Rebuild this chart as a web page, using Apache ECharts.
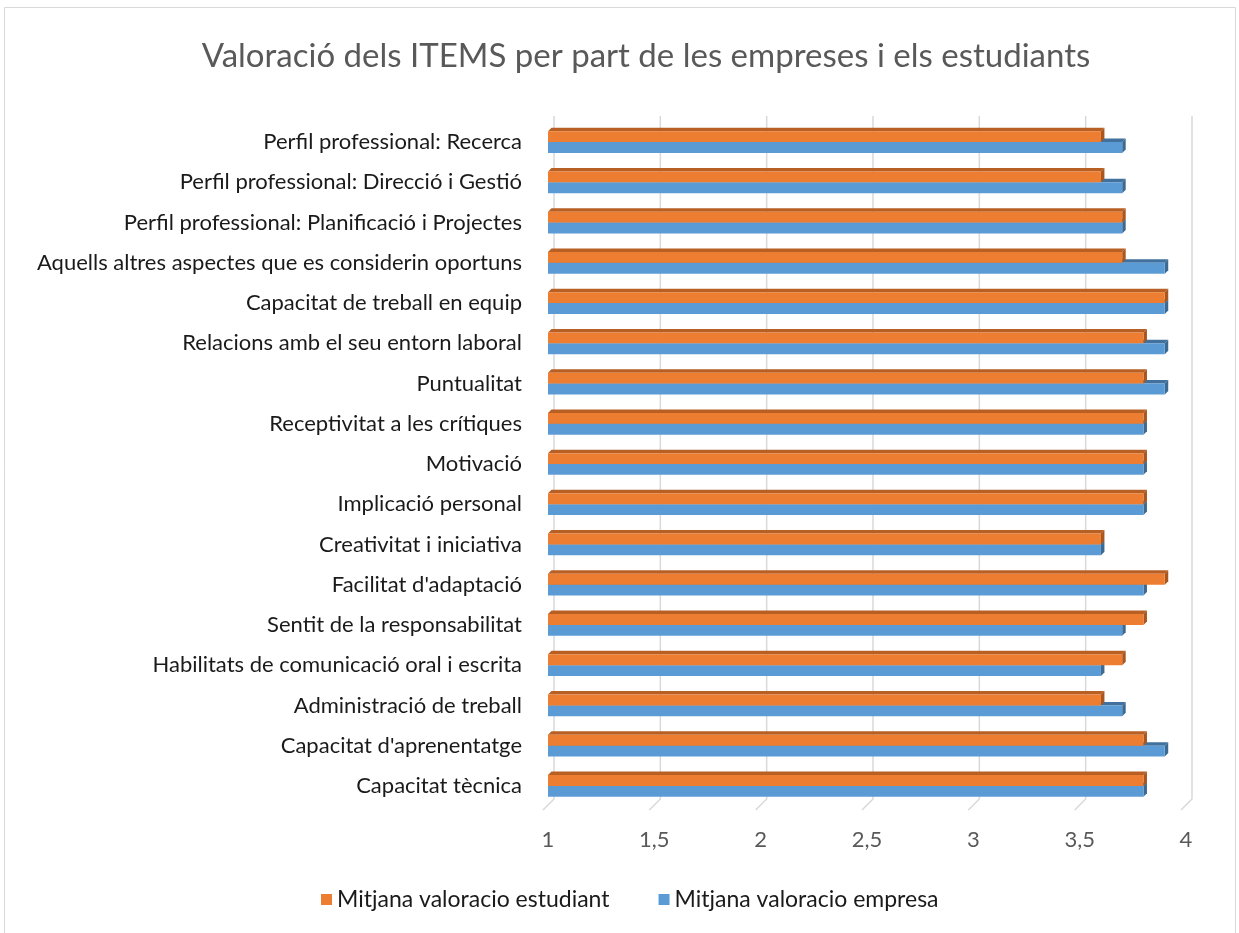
<!DOCTYPE html>
<html>
<head>
<meta charset="utf-8">
<script src="https://cdn.jsdelivr.net/npm/echarts@6/dist/echarts.min.js"></script>
<style>
  html, body { margin: 0; padding: 0; background: #fff; }
  #main { width: 1239px; height: 933px; }
</style>
</head>
<body>
<div id="main"></div>
<script>
var categories = [
    'Perfil professional: Recerca',
    'Perfil professional: Direcció i Gestió',
    'Perfil professional: Planificació i Projectes',
    'Aquells altres aspectes que es considerin oportuns',
    'Capacitat de treball en equip',
    'Relacions amb el seu entorn laboral',
    'Puntualitat',
    'Receptivitat a les crítiques',
    'Motivació',
    'Implicació personal',
    'Creativitat i iniciativa',
    "Facilitat d'adaptació",
    'Sentit de la responsabilitat',
    'Habilitats de comunicació oral i escrita',
    'Administració de treball',
    "Capacitat d'aprenentatge",
    'Capacitat tècnica'
];
var estudiant = [3.6, 3.6, 3.7, 3.7, 3.9, 3.8, 3.8, 3.8, 3.8, 3.8, 3.6, 3.9, 3.8, 3.7, 3.6, 3.8, 3.8];
var empresa = [3.7, 3.7, 3.7, 3.9, 3.9, 3.9, 3.9, 3.8, 3.8, 3.8, 3.6, 3.8, 3.7, 3.6, 3.7, 3.9, 3.8];
var xTicks = [1, 1.5, 2, 2.5, 3, 3.5, 4];

var FONT = 'Lato';
var chart = echarts.init(document.getElementById('main'));

// barra 3D: cara frontal + cara superior + costat
function bar3d(upper, front, topC, sideC) {
    return function (params, api) {
        var c = api.value(1);
        var end = api.coord([api.value(0), c]);
        var start = api.coord([1, c]);
        var band = api.size([0, 1])[1];
        var h = band * 0.27;
        var d = 3.5;
        var y0 = upper ? end[1] - h : end[1];
        var x0 = start[0], x1 = end[0];
        return {
            type: 'group',
            children: [{
                type: 'polygon',
                shape: { points: [[x0, y0], [x0 + d, y0 - d], [x1 + d, y0 - d], [x1, y0]] },
                style: { fill: topC }
            }, {
                type: 'polygon',
                shape: { points: [[x1, y0], [x1 + d, y0 - d], [x1 + d, y0 + h - d], [x1, y0 + h]] },
                style: { fill: sideC }
            }, {
                type: 'rect',
                shape: { x: x0, y: y0, width: x1 - x0, height: h },
                style: { fill: front }
            }]
        };
    };
}

function wallLine(params, api) {
    var p = api.coord([api.value(0), 0]);
    var cs = params.coordSys;
    var top = cs.y - 6, bot = cs.y + cs.height - 7;
    return {
        type: 'polyline',
        shape: { points: [[p[0] + 6, top], [p[0] + 6, bot], [p[0] - 5, bot + 11]] },
        style: { stroke: '#d9d9d9', lineWidth: 1.5, fill: null }
    };
}

var option = {
    color: ['#ED7D31', '#5B9BD5'],
    textStyle: { fontFamily: FONT },
    title: {
        text: 'Valoració dels ITEMS per part de les empreses i els estudiants',
        left: 641,
        textAlign: 'center',
        top: 35,
        textStyle: { color: '#595959', fontSize: 33, fontWeight: 'normal', fontFamily: FONT }
    },
    graphic: [{
        type: 'rect',
        shape: { x: 4.5, y: 7.5, width: 1231, height: 940 },
        style: { fill: null, stroke: '#d9d9d9', lineWidth: 1 },
        silent: true
    }],
    legend: {
        data: ['Mitjana valoracio estudiant', 'Mitjana valoracio empresa'],
        left: 321,
        top: 888,
        padding: 0,
        icon: 'rect',
        itemWidth: 11,
        itemHeight: 11,
        itemGap: 49,
        textStyle: { color: '#1a1a1a', fontSize: 23, fontFamily: FONT }
    },
    grid: {
        left: 548,
        right: 53,
        top: 122,
        bottom: 127
    },
    xAxis: {
        type: 'value',
        min: 1,
        max: 4,
        interval: 0.5,
        axisLine: { show: false },
        axisTick: { show: false },
        splitLine: { show: false },
        axisLabel: {
            color: '#595959',
            fontSize: 22,
            margin: 23,
            formatter: function (v) { return String(v).replace('.', ','); }
        }
    },
    yAxis: {
        type: 'category',
        data: categories,
        inverse: true,
        axisLine: { show: false },
        axisTick: { show: false },
        axisLabel: { color: '#1a1a1a', fontSize: 22, margin: 26 }
    },
    series: [{
        name: 'wall',
        type: 'custom',
        silent: true,
        z: 1,
        renderItem: wallLine,
        data: xTicks.map(function (t) { return [t, 0]; })
    }, {
        name: 'Mitjana valoracio empresa',
        type: 'custom',
        z: 2,
        itemStyle: { color: '#5B9BD5' },
        renderItem: bar3d(false, '#5B9BD5', '#41719C', '#3D6A92'),
        encode: { x: 0, y: 1 },
        data: empresa.map(function (v, i) { return [v, i]; })
    }, {
        name: 'Mitjana valoracio estudiant',
        type: 'custom',
        z: 3,
        itemStyle: { color: '#ED7D31' },
        renderItem: bar3d(true, '#ED7D31', '#B85F24', '#A9561F'),
        encode: { x: 0, y: 1 },
        data: estudiant.map(function (v, i) { return [v, i]; })
    }]
};
chart.setOption(option);
</script>
</body>
</html>
